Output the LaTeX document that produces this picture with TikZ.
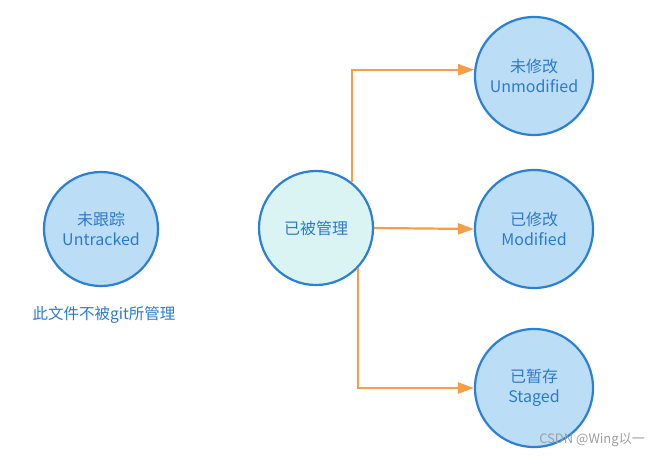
\documentclass[tikz,border=0pt]{standalone}
\usepackage{fontspec}
\setmainfont{Noto Sans CJK SC}
\usetikzlibrary{arrows.meta}
\definecolor{ringblue}{HTML}{2A7FD6}
\definecolor{stateblue}{HTML}{BBDDF6}
\definecolor{managedcyan}{HTML}{DAF4F4}
\definecolor{txtblue}{HTML}{2C7AD0}
\definecolor{flow}{HTML}{F59E47}
\begin{document}
\begin{tikzpicture}[x=1pt,y=-1pt,
  state/.style={circle,draw=ringblue,line width=2.2pt,fill=stateblue,text=txtblue,
    minimum size=118pt,inner sep=0pt,align=center,font=\fontsize{16}{20}\selectfont},
  flowarrow/.style={draw=flow,line width=2.2pt,-{Triangle[length=16pt,width=11pt]}}]
\useasboundingbox (0,0) rectangle (671,458);
\node[state,minimum size=114pt] (untracked) at (101,229) {未跟踪\\Untracked};
\node[txtblue,font=\fontsize{15.5}{20}\selectfont] (note) at (104,315) {此文件不被git所管理};
\node[state,minimum size=114pt,fill=managedcyan] (managed) at (316,228) {已被管理};
\node[state] (unmod) at (534,76) {未修改\\Unmodified};
\node[state] (mod) at (534,229) {已修改\\Modified};
\node[state] (staged) at (534,388) {已暂存\\Staged};
\draw[flowarrow] (managed.52) |- (unmod.174);
\draw[flowarrow] (managed.east) -- (mod.west);
\draw[flowarrow] (managed.-44) |- (staged.west);
\node[gray!75,font=\fontsize{13}{15}\selectfont] (mark) at (592,440) {CSDN @Wing以一};
\end{tikzpicture}
\end{document}
